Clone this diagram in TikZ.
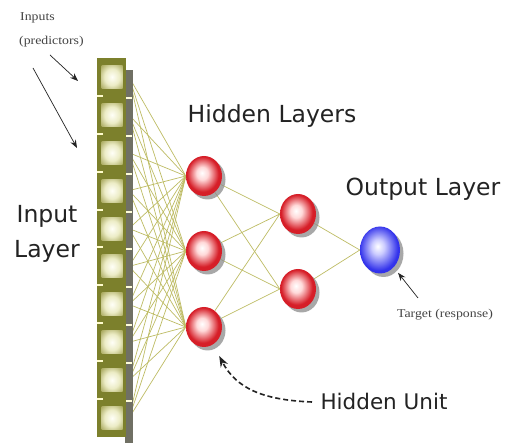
\documentclass[tikz,border=0pt]{standalone}
\usepackage{fontspec}
\setmainfont{DejaVu Sans}
\newfontfamily\smallserif{Liberation Serif}
\usetikzlibrary{shapes.geometric,shadows,arrows.meta}
\definecolor{olivebar}{RGB}{124,128,44}
\definecolor{oliveshadow}{RGB}{112,112,100}
\definecolor{cellout}{RGB}{160,160,80}
\definecolor{linkcol}{RGB}{190,188,100}
\definecolor{txt}{RGB}{35,35,35}
\definecolor{ballred}{RGB}{214,30,40}
\definecolor{balldark}{RGB}{150,15,25}
\definecolor{ballblue}{RGB}{50,50,235}
\definecolor{balldblue}{RGB}{30,30,150}
\pgfdeclareradialshading{redball}{\pgfpoint{-3bp}{4bp}}{color(0bp)=(white); color(8bp)=(white!85!red); color(22bp)=(ballred); color(40bp)=(ballred); color(50bp)=(balldark)}
\pgfdeclareradialshading{blueball}{\pgfpoint{-3bp}{4bp}}{color(0bp)=(white); color(8bp)=(white!80!blue); color(24bp)=(ballblue); color(42bp)=(ballblue); color(50bp)=(balldblue)}
\pgfdeclareradialshading{cellshade}{\pgfpoint{0bp}{0bp}}{color(0bp)=(white!97!yellow); color(18bp)=(white!85!olive); color(38bp)=(cellout); color(50bp)=(olivebar)}
\pgfdeclarelayer{back}
\pgfdeclarelayer{links}
\pgfsetlayers{back,links,main}
\begin{document}
\begin{tikzpicture}[x=1pt,y=-1pt,
  cellbox/.style={rectangle, minimum width=21pt, minimum height=23pt, inner sep=0pt, shading=cellshade},
  redunit/.style={ellipse, minimum width=36pt, minimum height=40pt, inner sep=0pt, shading=redball,
     drop shadow={shadow xshift=3.5pt, shadow yshift=-3.5pt, fill=gray!90, opacity=0.75}},
  blueunit/.style={ellipse, minimum width=40pt, minimum height=47pt, inner sep=0pt, shading=blueball,
     drop shadow={shadow xshift=3.5pt, shadow yshift=-3.5pt, fill=gray!90, opacity=0.75}},
  link/.style={draw=linkcol, line width=0.7pt},
  biglabel/.style={text=txt, font=\fontsize{23.5}{28}\selectfont, inner sep=0pt},
  tinylabel/.style={text=txt!85, font=\smallserif\fontsize{12}{13}\selectfont, inner sep=0pt, xscale=1.15},
  pointer/.style={draw=txt, line width=0.7pt, -{Stealth[length=8pt,width=6pt]}},
  dashpointer/.style={draw=txt, line width=1.6pt, dash pattern=on 5pt off 3pt, -{Stealth[length=11pt,width=8pt]}}
]
\useasboundingbox (0,0) rectangle (507,443);
\begin{pgfonlayer}{back}
  \fill[white] (0,0) rectangle (507,443);
\end{pgfonlayer}

% input column
\fill[oliveshadow] (125,70) rectangle (133,443);
\fill[olivebar] (97,58) rectangle (126,437);
\foreach \i in {1,...,10} {
  \node[cellbox] (c\i) at (112,{58+37.9*(\i-0.5)}) {};
  \coordinate (r\i) at (129,{58+37.9*(\i-0.5)});
}
\foreach \i in {1,...,9} {
  \fill[white!80!yellow] (97,{58+37.9*\i-1}) rectangle (103,{58+37.9*\i+1});
  \fill[white!85!yellow] (126,{58+37.9*\i+1}) rectangle (132,{58+37.9*\i+3});
}

% hidden and output units
\node[redunit] (h1) at (204,176) {};
\node[redunit] (h2) at (204,251) {};
\node[redunit] (h3) at (204,327) {};
\node[redunit] (g1) at (298,214) {};
\node[redunit] (g2) at (298,289) {};
\node[blueunit] (o) at (380,250) {};

% links
\begin{pgfonlayer}{links}
  \foreach \i in {1,...,10} \foreach \j in {1,2,3} \draw[link] (r\i) -- (h\j.west);
  \foreach \i in {1,2,3} \foreach \j in {1,2} \draw[link] (h\i) -- (g\j.west);
  \foreach \j in {1,2} \draw[link] (g\j) -- (o.west);
\end{pgfonlayer}

% labels
\node[tinylabel, anchor=base west] (inp1) at (20,21) {Inputs};
\node[tinylabel, anchor=base west] (inp2) at (19,45) {(predictors)};
\node[biglabel, anchor=base] (il1) at (47,223) {Input};
\node[biglabel, anchor=base] (il2) at (47,258) {Layer};
\node[biglabel, anchor=base] (hl) at (272,123) {Hidden Layers};
\node[biglabel, anchor=base] (ol) at (423,196) {Output Layer};
\node[biglabel, anchor=base, font=\fontsize{21.5}{26}\selectfont] (hu) at (384,410) {Hidden Unit};
\node[tinylabel, anchor=base] (tg) at (445,318) {Target (response)};

% pointers
\coordinate (a1s) at (50,55);
\coordinate (a1e) at (78,81);
\coordinate (a2s) at (33,68);
\coordinate (a2e) at (77,148);
\draw[pointer] (a1s) -- (a1e);
\draw[pointer] (a2s) -- (a2e);
\coordinate (ts) at (418,298);
\draw[pointer] (ts) -- (o) [shorten >=7pt];
\coordinate (hus) at (312,402);
\draw[dashpointer, shorten >=13pt] (hus) .. controls (262,400) and (236,388) .. (h3);
\end{tikzpicture}
\end{document}
